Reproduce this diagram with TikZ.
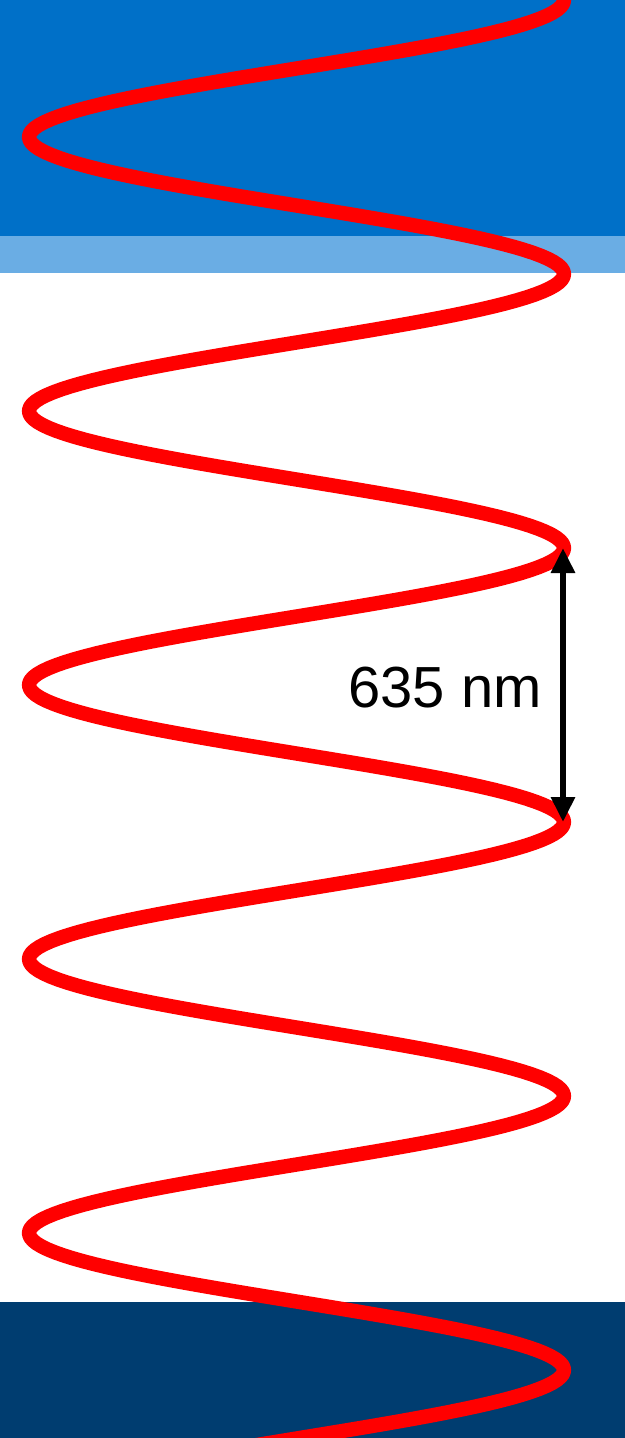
\documentclass[tikz,border=0pt]{standalone}
\usepackage{fontspec}
\setmainfont{Liberation Sans}
\usetikzlibrary{arrows.meta,positioning}
\definecolor{topblue}{RGB}{0,112,200}
\definecolor{lightblue}{RGB}{106,173,228}
\definecolor{navy}{RGB}{0,61,112}
\definecolor{wavered}{RGB}{255,0,0}

\begin{document}
\begin{tikzpicture}[
  x=0.02cm, y=-0.02cm,
  band/.style={draw=none},
  wave/.style={draw=wavered, line width=8.2pt, line join=round},
  dim/.style={line width=3.4pt, {Triangle[width=0.46cm, length=0.5cm]}-{Triangle[width=0.46cm, length=0.5cm]}},
  lbl/.style={font=\fontsize{33}{40}\selectfont, inner sep=0pt}
]
\useasboundingbox (0,0) rectangle (625,1438);

% layers
\fill[band, topblue] (0,0) rectangle (625,236);
\fill[band, lightblue] (0,236) rectangle (625,273);
\fill[band, navy] (0,1302) rectangle (625,1438);

% light wave
\begin{scope}
  \clip (0,0) rectangle (625,1438);
  \draw[wave] plot[domain=-20:1460, samples=500, variable=\t]
    ({296.5+267.5*cos(1.31387*(\t-548))}, \t);
\end{scope}

% one period
\coordinate (ptop) at (563,548);
\coordinate (pbot) at (563,822);
\draw[dim] (ptop) -- (pbot);
\node[lbl] (len) at (445,688) {635 nm};

\end{tikzpicture}
\end{document}
